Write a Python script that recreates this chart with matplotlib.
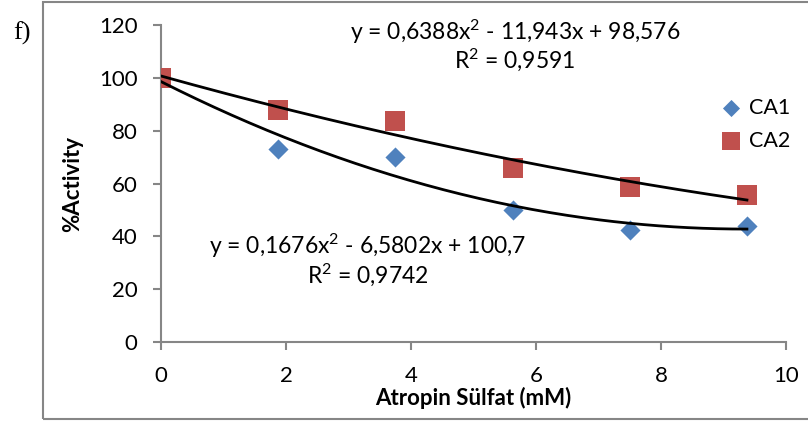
import numpy as np
import matplotlib
matplotlib.use("Agg")
import matplotlib.pyplot as plt
from matplotlib.patches import Rectangle

plt.rcParams['font.family'] = ['Lato', 'DejaVu Sans']
plt.rcParams['mathtext.fontset'] = 'custom'
plt.rcParams['mathtext.rm'] = 'Lato'
plt.rcParams['mathtext.it'] = 'Lato'

conc = [0, 1.875, 3.75, 5.625, 7.5, 9.375]
ca1 = [100, 73, 70, 50, 42.5, 44]
ca2 = [100, 88, 83.5, 66, 58.5, 55.5]

# trendline coefficients as printed on the chart (a, b, c)
fit_ca1 = [0.6388, -11.943, 98.576]
fit_ca2 = [0.1676, -6.5802, 100.7]

W, H = 808, 423
fig = plt.figure(figsize=(W / 100, H / 100), dpi=100)
ax = fig.add_axes([161 / W, 1 - 342 / H, (786 - 161) / W, (342 - 25) / H])


def px(x, y):
    # pixel position from the top-left corner -> figure fraction
    return x / W, 1 - y / H


grey = '#868686'
ax.scatter(conc, ca1, marker='D', s=105, color='#4F81BD', label='CA1', zorder=3, linewidths=0)
ax.scatter(conc, ca2, marker='s', s=210, color='#C0504D', label='CA2', zorder=4, linewidths=0)

xs = np.linspace(conc[0], conc[-1], 200)
ax.plot(xs, np.polyval(fit_ca1, xs), color='black', lw=2, zorder=5)
ax.plot(xs, np.polyval(fit_ca2, xs), color='black', lw=2, zorder=5)

ax.set_xlim(0, 10)
ax.set_ylim(0, 120)
ax.set_xticks(range(0, 11, 2))
ax.set_yticks(range(0, 121, 20))
for s in ['top', 'right']:
    ax.spines[s].set_visible(False)
for s in ['left', 'bottom']:
    ax.spines[s].set_color(grey)
    ax.spines[s].set_linewidth(1.5)
ax.tick_params(axis='both', direction='out', length=6, width=1.5, color=grey, labelsize=16)
ax.tick_params(axis='y', pad=11)
ax.tick_params(axis='x', pad=11)
ax.set_xlabel('Atropin Sülfat (mM)', fontsize=16, fontweight='bold', labelpad=1)
ax.set_ylabel('%Activity', fontsize=16, fontweight='bold', labelpad=11)

eq_kw = dict(transform=fig.transFigure, fontsize=16.5, ha='center', va='center')
ax.text(*px(515, 32), r'y = 0,6388x$^{\mathrm{2}}$ - 11,943x + 98,576', **eq_kw)
ax.text(*px(515, 60), r'R$^{\mathrm{2}}$ = 0,9591', **eq_kw)
ax.text(*px(368, 246), r'y = 0,1676x$^{\mathrm{2}}$ - 6,5802x + 100,7', **eq_kw)
ax.text(*px(368, 275), r'R$^{\mathrm{2}}$ = 0,9742', **eq_kw)

ax.legend(loc='upper left', bbox_to_anchor=px(711, 87), bbox_transform=fig.transFigure,
          frameon=False, fontsize=15.5, handlelength=0.9, handletextpad=0.35,
          labelspacing=0.6, borderpad=0, markerscale=0.85)

fig.text(*px(22, 33), 'f)', family='Liberation Serif', fontsize=19, ha='center', va='center')
fig.patches.append(Rectangle((43 / W, 4.5 / H), 1.0, (421 - 4.5) / H, transform=fig.transFigure,
                             fill=False, edgecolor=grey, lw=1.5))

fig.savefig('out.png', dpi=100)
